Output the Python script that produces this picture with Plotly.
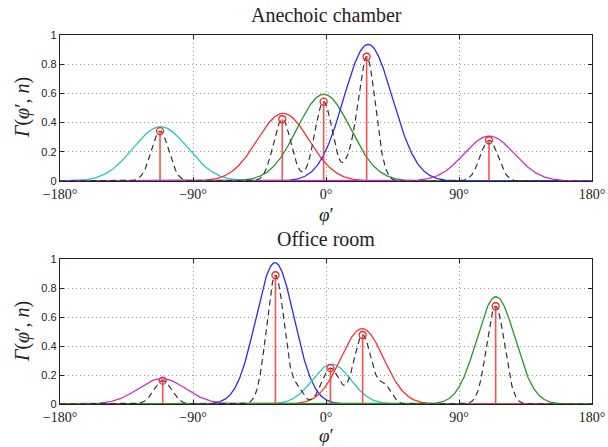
import numpy as np
import plotly.graph_objects as go

# ---------------- data ----------------
tick_vals = [-180, -90, 0, 90, 180]
tick_text = ["−180°", "−90°", "0°", "90°", "180°"]
y_tick_vals = [0, 0.2, 0.4, 0.6, 0.8, 1]
y_tick_text = ["0", "0.2", "0.4", "0.6", "0.8", "1"]

# Anechoic chamber: broad source lobes (centre deg, peak, width deg)
top_colors = ["#2ec4c4", "#ff3030", "#2a962a", "#2a2aff", "#c832c8"]
top_centers = [-112.0, -29.0, -1.5, 28.5, 110.5]
top_peaks = [0.372, 0.464, 0.594, 0.936, 0.308]
top_widths = [18.5, 17.5, 18.0, 16.5, 17.0]
# detected peaks (stems)
top_stem_angles = [-112.3, -29.6, -1.6, 27.5, 110.3]
top_stem_values = [0.342, 0.423, 0.543, 0.851, 0.279]
# extra small shoulders in the dashed curve (centre, height, width)
top_shoulder_centers = [15.0]
top_shoulder_heights = [0.08]
top_shoulder_widths = [4.0]

# Office room
bot_colors = ["#c832c8", "#2a2aff", "#2ec4c4", "#ff3030", "#2a962a"]
bot_centers = [-111.0, -34.5, 3.8, 24.5, 115.0]
bot_peaks = [0.175, 0.975, 0.275, 0.52, 0.74]
bot_widths = [16.0, 13.0, 13.0, 14.5, 13.0]
bot_stem_angles = [-110.5, -34.2, 3.0, 24.8, 114.8]
bot_stem_values = [0.161, 0.888, 0.247, 0.476, 0.674]
bot_shoulder_centers = [-19.0, 40.0]
bot_shoulder_heights = [0.09, 0.12]
bot_shoulder_widths = [4.0, 4.5]

dashed_width = 6.0

# ---------------- figure ----------------
W, H = 608, 447
x0p, x1p = 60 / W, 592 / W
top_dom = [1 - 181 / H, 1 - 35 / H]
bot_dom = [1 - 404 / H, 1 - 259 / H]

phi = np.linspace(-180, 180, 1441)


def lobe(c, h, w):
    return h * np.exp(-0.5 * ((phi - c) / w) ** 2)


fig = go.Figure()


def add_panel(xa, ya, colors, centers, peaks, widths, s_ang, s_val, sh_c, sh_h, sh_w):
    for col, c, h, w in zip(colors, centers, peaks, widths):
        fig.add_trace(go.Scatter(x=phi, y=lobe(c, h, w), mode="lines",
                                 line=dict(color=col, width=1.3),
                                 xaxis=xa, yaxis=ya, showlegend=False, hoverinfo="skip"))
    dashed = np.zeros_like(phi)
    for c, h in zip(s_ang, s_val):
        dashed += lobe(c, h, dashed_width)
    for c, h, w in zip(sh_c, sh_h, sh_w):
        dashed += lobe(c, h, w)
    fig.add_trace(go.Scatter(x=phi, y=dashed, mode="lines",
                             line=dict(color="#333333", width=1.2, dash="6px,4px"),
                             xaxis=xa, yaxis=ya, showlegend=False, hoverinfo="skip"))
    sx, sy = [], []
    for a, v in zip(s_ang, s_val):
        sx += [a, a, None]
        sy += [0, v, None]
    fig.add_trace(go.Scatter(x=sx, y=sy, mode="lines",
                             line=dict(color="rgba(255,50,50,0.85)", width=1.6),
                             xaxis=xa, yaxis=ya, showlegend=False, hoverinfo="skip"))
    fig.add_trace(go.Scatter(x=s_ang, y=s_val, mode="markers",
                             marker=dict(symbol="circle-open", color="#ff2020", size=7,
                                         line=dict(width=1.3)),
                             xaxis=xa, yaxis=ya, showlegend=False, hoverinfo="skip"))


add_panel("x", "y", top_colors, top_centers, top_peaks, top_widths,
          top_stem_angles, top_stem_values,
          top_shoulder_centers, top_shoulder_heights, top_shoulder_widths)
add_panel("x2", "y2", bot_colors, bot_centers, bot_peaks, bot_widths,
          bot_stem_angles, bot_stem_values,
          bot_shoulder_centers, bot_shoulder_heights, bot_shoulder_widths)

serif = "Liberation Serif"
xcommon = dict(range=[-180, 180], tickvals=tick_vals, ticktext=tick_text,
               tickfont=dict(family=serif, size=14, color="#222"),
               showline=True, linecolor="#222", linewidth=1.4, mirror="allticks",
               ticks="inside", ticklen=4, tickcolor="#222",
               showgrid=True, gridcolor="#9a9a9a", griddash="1px,3px", gridwidth=1,
               zeroline=False, domain=[x0p, x1p], automargin=False)
ycommon = dict(range=[0, 1], tickvals=y_tick_vals, ticktext=y_tick_text,
               tickfont=dict(family="Liberation Sans", size=11, color="#222"),
               showline=True, linecolor="#222", linewidth=1.4, mirror="allticks",
               ticks="inside", ticklen=4, tickcolor="#222",
               showgrid=True, gridcolor="#9a9a9a", griddash="1px,3px", gridwidth=1,
               zeroline=False, automargin=False)

fig.update_layout(
    width=W, height=H, margin=dict(l=0, r=0, t=0, b=0, autoexpand=False),
    paper_bgcolor="white", plot_bgcolor="white",
    xaxis=dict(**xcommon, anchor="y"),
    yaxis=dict(**ycommon, domain=top_dom, anchor="x"),
    xaxis2=dict(**xcommon, anchor="y2"),
    yaxis2=dict(**ycommon, domain=bot_dom, anchor="x2"),
)

ylab = "<i>Γ</i>(<i>φ</i>′<i>, n</i>)"
xc = (x0p + x1p) / 2
annots = [
    dict(text="Anechoic chamber", x=xc, y=1 - 15 / H, font=dict(family=serif, size=20, color="#222")),
    dict(text="Office room", x=xc, y=1 - 239 / H, font=dict(family=serif, size=20, color="#222")),
    dict(text="<i>φ</i>′", x=xc, y=1 - 215 / H, font=dict(family=serif, size=19, color="#222")),
    dict(text="<i>φ</i>′", x=xc, y=1 - 435 / H, font=dict(family=serif, size=19, color="#222")),
    dict(text=ylab, x=22 / W, y=1 - 108 / H, textangle=-90, font=dict(family=serif, size=20, color="#222")),
    dict(text=ylab, x=22 / W, y=1 - 332 / H, textangle=-90, font=dict(family=serif, size=20, color="#222")),
]
for a in annots:
    fig.add_annotation(xref="paper", yref="paper", showarrow=False,
                       xanchor="center", yanchor="middle", **a)

fig.write_html("out.html")
